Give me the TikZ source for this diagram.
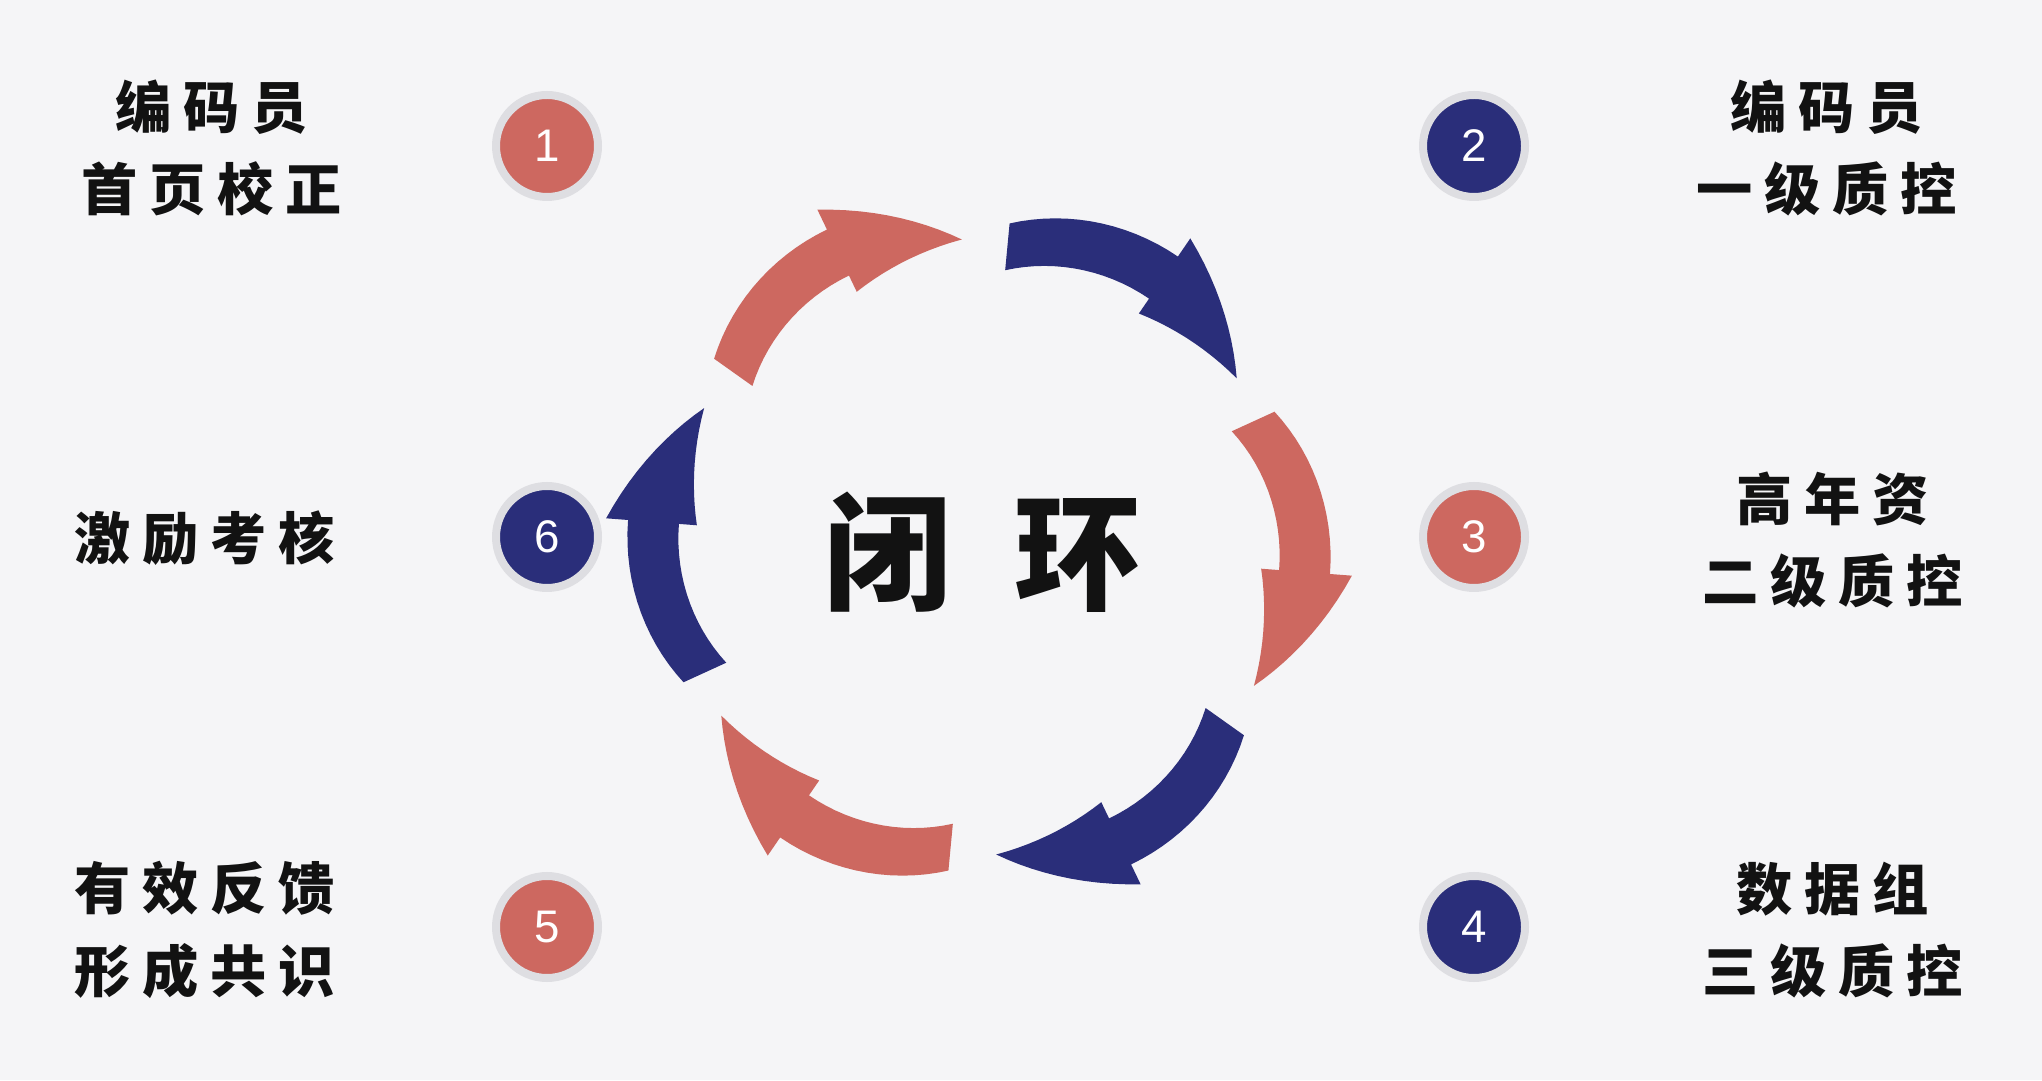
\documentclass[tikz,border=0pt]{standalone}
\usepackage{fontspec}
\usepackage{tikz}
\newfontfamily\cjk{Noto Sans CJK SC}[LetterSpace=21]
\newfontfamily\cjkbig{Noto Sans CJK SC}
\newfontfamily\digitfont{Liberation Sans}
\definecolor{bgpaper}{RGB}{245,245,247}
\definecolor{loopred}{RGB}{205,104,96}
\definecolor{loopblue}{RGB}{42,46,122}
\definecolor{halo}{RGB}{222,222,226}
\definecolor{ink}{RGB}{18,18,18}
\tikzset{
	numdot/.style={circle, minimum size=1.02cm, inner sep=0pt, draw=halo, line width=0.08cm,
		text=white, font=\digitfont\fontsize{13}{13}\selectfont},
	steptext/.style={align=center, text=ink, font=\cjk\bfseries\fontsize{16}{23.5}\selectfont},
}
\begin{document}
\begin{tikzpicture}
	\useasboundingbox (0,0) rectangle (20.42,10.80);
	\fill[bgpaper] (0,0) rectangle (20.42,10.80);
	% ring of six curved arrows
	\begin{scope}[shift={(9.79,5.33)}]
		\foreach \a/\c in {144.6/loopred, 84.6/loopblue, 24.6/loopred, -35.4/loopblue, -95.4/loopred, -155.4/loopblue}
		\fill[\c] plot[domain=0:29, samples=16] ({\a-\x}:{2.78+0.23*(1-(1-\x/29)^2)})
			-- ({\a-29}:2.83)
			-- plot[domain=29:51.4, samples=12] ({\a-\x}:{2.83+0.25*(\x-29)/22.4})
			-- plot[domain=51.4:29, samples=12] ({\a-\x}:{3.74-0.66*(\x-29)/22.4})
			-- ({\a-29}:3.52)
			-- plot[domain=29:0, samples=16] ({\a-\x}:{3.25+0.27*(1-(1-\x/29)^2)})
			-- cycle;
		\node[text=ink, font=\cjkbig\bfseries\fontsize{36}{36}\selectfont] (loop) at (0.04,-0.05) {闭\hspace{0.5em}环};
	\end{scope}
	% numbered dots
	\node[numdot, fill=loopred]  (n1) at (5.47,9.34) {1};
	\node[numdot, fill=loopblue] (n2) at (14.74,9.34) {2};
	\node[numdot, fill=loopred]  (n3) at (14.74,5.43) {3};
	\node[numdot, fill=loopblue] (n4) at (14.74,1.53) {4};
	\node[numdot, fill=loopred]  (n5) at (5.47,1.53) {5};
	\node[numdot, fill=loopblue] (n6) at (5.47,5.43) {6};
	% step labels
	\node[steptext] (t1) at (2.12,9.32) {编码员\\首页校正};
	\node[steptext] (t2) at (18.27,9.32) {编码员\\一级质控};
	\node[steptext] (t3) at (18.33,5.40) {高年资\\二级质控};
	\node[steptext] (t4) at (18.33,1.50) {数据组\\三级质控};
	\node[steptext] (t5) at (2.05,1.50) {有效反馈\\形成共识};
	\node[steptext] (t6) at (2.05,5.42) {激励考核};
\end{tikzpicture}
\end{document}
